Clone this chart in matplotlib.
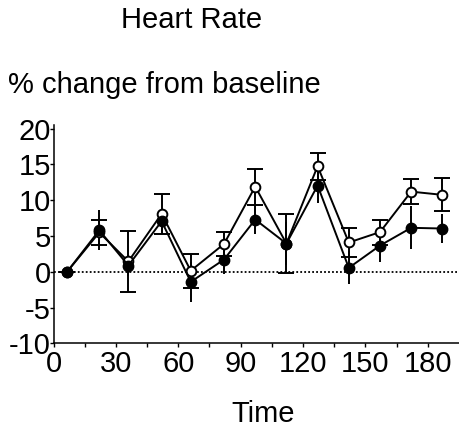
import matplotlib
matplotlib.use("Agg")
import matplotlib.pyplot as plt

plt.rcParams['font.family'] = ['Liberation Sans', 'DejaVu Sans']

time = [6.5, 22, 36, 52, 66, 82, 97, 112, 127, 142, 157, 172, 187]
filled = [0, 5.8, 0.88, 7.07, -1.4, 1.72, 7.3, 3.95, 12.05, 0.56, 3.67, 6.15, 6.05]
filled_se = [0, 2.8, 1.5, 1.5, 2.8, 2.0, 2.0, 3.0, 2.5, 2.3, 2.35, 3.0, 2.0]
open_vals = [0, 5.5, 1.45, 8.1, 0.15, 3.9, 11.9, 3.95, 14.75, 4.1, 5.55, 11.2, 10.75]
open_se = [0, 1.7, 4.2, 2.8, 2.4, 1.7, 2.5, 4.1, 1.9, 2.05, 1.75, 1.7, 2.3]

xticks = [0, 30, 60, 90, 120, 150, 180]
yticks = [-10, -5, 0, 5, 10, 15, 20]

fig = plt.figure(figsize=(4.59, 4.32), dpi=100)
ax = fig.add_axes([0.1166, 0.2049, 0.8834, 0.5057])

ax.axhline(0, color='black', lw=1.3, ls=(0, (1, 1.2)), zorder=1)

ax.errorbar(time, filled, yerr=filled_se, fmt='none', ecolor='black',
            elinewidth=1.4, capsize=0, zorder=2)
ax.errorbar(time, open_vals, yerr=open_se, fmt='none', ecolor='black',
            elinewidth=1.4, capsize=6, capthick=1.4, zorder=3)
ax.plot(time, open_vals, '-o', color='black', lw=1.4, ms=7,
        mfc='white', mec='black', mew=1.4, zorder=4)
ax.plot(time, filled, '-o', color='black', lw=1.4, ms=7.5,
        mfc='black', mec='black', zorder=5)

ax.set_xlim(0, 195)
ax.set_ylim(-10, 20.5)
ax.set_xticks(xticks)
ax.set_xticks(list(range(15, 195, 30)), minor=True)
ax.set_yticks(yticks)
ax.set_yticklabels([str(v) for v in yticks])
ax.spines['top'].set_visible(False)
ax.spines['right'].set_visible(False)
for s in ['left', 'bottom']:
    ax.spines[s].set_linewidth(1.1)
ax.tick_params(axis='both', which='both', direction='out', length=3, width=1,
               labelsize=21)
ax.tick_params(axis='y', pad=-1)
ax.tick_params(axis='x', pad=2)

fig.text(0.418, 0.9345, 'Heart Rate', fontsize=21, ha='center', va='baseline')
fig.text(0.017, 0.784, '% change from baseline', fontsize=21, ha='left', va='baseline')
fig.text(0.573, 0.023, 'Time', fontsize=21, ha='center', va='baseline')

fig.savefig('out.png', dpi=100)
